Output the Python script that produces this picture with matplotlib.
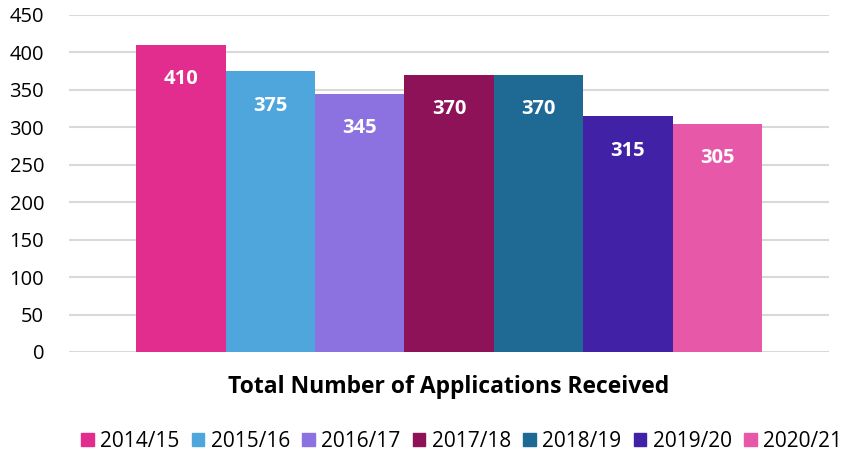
import matplotlib
matplotlib.use('Agg')
import matplotlib.pyplot as plt
import matplotlib.patches as mpt

# data
years = ['2014/15', '2015/16', '2016/17', '2017/18', '2018/19', '2019/20', '2020/21']
applications = [410, 375, 345, 370, 370, 315, 305]
colours = ['#E22D8E', '#4EA6DC', '#8B72E0', '#8E1258', '#1F6995', '#4121A6', '#E758A8']
yticks = [0, 50, 100, 150, 200, 250, 300, 350, 400, 450]
title = 'Total Number of Applications Received'

plt.rcParams['font.family'] = ['Open Sans', 'DejaVu Sans']

fig = plt.figure(figsize=(8.47, 4.57), dpi=100)
ax = fig.add_axes([0.0815, 0.2298, 0.8975, 0.7374])

pos = list(range(len(years)))
bars = ax.bar(pos, applications, width=1.0, color=colours, zorder=2)

for x, v in zip(pos, applications):
	ax.text(x, v - 46, str(v), ha='center', va='center', color='white',
			fontsize=14.5, fontweight='bold')

ax.set_xlim(-1.25, 7.25)
ax.set_ylim(0, 450)
ax.set_yticks(yticks)
ax.set_xticks([])
ax.tick_params(axis='y', length=0, labelsize=14.5, pad=18)
ax.yaxis.grid(True, color='#D9D9D9', linewidth=1.5, zorder=0)
for s in ax.spines.values():
	s.set_visible(False)

fig.text(0.530, 0.153, title, ha='center', va='center', fontsize=16.5,
		 fontweight='bold')

hdls = [mpt.Rectangle((0, 0), 1, 1, color=c) for c in colours]
fig.legend(hdls, years, loc='center', bbox_to_anchor=(0.545, 0.035), ncol=7,
		   frameon=False, fontsize=15, handlelength=0.6, handleheight=0.6,
		   handletextpad=0.3, columnspacing=0.6)

fig.savefig('out.png', dpi=100)
